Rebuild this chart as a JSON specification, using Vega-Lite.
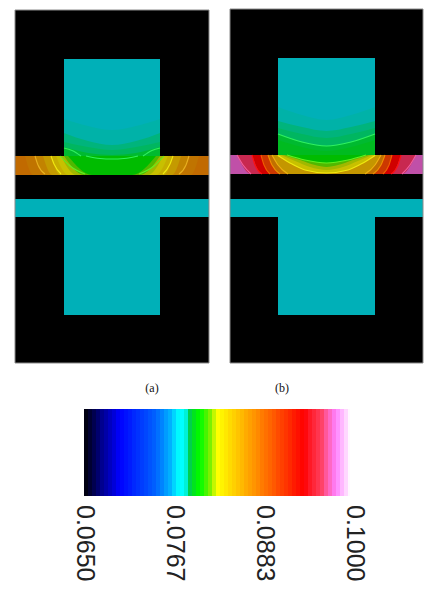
{
"$schema":"https://vega.github.io/schema/vega-lite/v6.json",
"width":440,"height":593,"padding":0,
"autosize":{"type":"fit","contains":"padding"},
"background":"#ffffff",
"view":{"stroke":null},
"config":{"style":{"cell":{"stroke":null}}},
"datasets":{
"blocks":[
{"x":15,"x2":209,"y":10,"y2":363,"v":0.065},
{"x":64,"x2":160,"y":59,"y2":156,"v":0.0774},
{"x":15,"x2":209,"y":156,"y2":175,"v":0.0872},
{"x":15,"x2":209,"y":175,"y2":199,"v":0.065},
{"x":15,"x2":209,"y":199,"y2":217,"v":0.0774},
{"x":64,"x2":160,"y":217,"y2":315,"v":0.0774},
{"x":230,"x2":423,"y":9,"y2":363,"v":0.065},
{"x":278,"x2":375,"y":58,"y2":155,"v":0.0774},
{"x":230,"x2":423,"y":155,"y2":174,"v":0.098},
{"x":230,"x2":423,"y":174,"y2":199,"v":0.065},
{"x":230,"x2":423,"y":199,"y2":217,"v":0.0774},
{"x":278,"x2":375,"y":217,"y2":315,"v":0.0774}
],
"frames":[
{"x":15,"x2":209,"y":10,"y2":363},
{"x":230,"x2":423,"y":9,"y2":363}
],
"bands":[
{"b":"a1","v":0.0779,"x":64,"y":119,"y2":156},{"b":"a1","v":0.0779,"x":88,"y":126,"y2":156},{"b":"a1","v":0.0779,"x":112,"y":130,"y2":156},{"b":"a1","v":0.0779,"x":136,"y":126,"y2":156},{"b":"a1","v":0.0779,"x":160,"y":119,"y2":156},
{"b":"a2","v":0.0785,"x":64,"y":133,"y2":156},{"b":"a2","v":0.0785,"x":88,"y":141,"y2":156},{"b":"a2","v":0.0785,"x":112,"y":145,"y2":156},{"b":"a2","v":0.0785,"x":136,"y":141,"y2":156},{"b":"a2","v":0.0785,"x":160,"y":133,"y2":156},
{"b":"a3","v":0.0790,"x":64,"y":142,"y2":156},{"b":"a3","v":0.0790,"x":88,"y":147,"y2":156},{"b":"a3","v":0.0790,"x":112,"y":150,"y2":156},{"b":"a3","v":0.0790,"x":136,"y":147,"y2":156},{"b":"a3","v":0.0790,"x":160,"y":142,"y2":156},
{"b":"a4","v":0.0794,"x":64,"y":147,"y2":156},{"b":"a4","v":0.0794,"x":88,"y":153,"y2":156},{"b":"a4","v":0.0794,"x":112,"y":155,"y2":156},{"b":"a4","v":0.0794,"x":136,"y":153,"y2":156},{"b":"a4","v":0.0794,"x":160,"y":147,"y2":156},
{"b":"as1","v":0.0866,"x":25,"y":156,"y2":156},{"b":"as1","v":0.0866,"x":33,"y":156,"y2":175},{"b":"as1","v":0.0866,"x":191,"y":156,"y2":175},{"b":"as1","v":0.0866,"x":199,"y":156,"y2":156},
{"b":"as2","v":0.0858,"x":35,"y":156,"y2":156},{"b":"as2","v":0.0858,"x":45,"y":156,"y2":175},{"b":"as2","v":0.0858,"x":179,"y":156,"y2":175},{"b":"as2","v":0.0858,"x":189,"y":156,"y2":156},
{"b":"as3","v":0.0846,"x":43,"y":156,"y2":156},{"b":"as3","v":0.0846,"x":52,"y":156,"y2":175},{"b":"as3","v":0.0846,"x":172,"y":156,"y2":175},{"b":"as3","v":0.0846,"x":181,"y":156,"y2":156},
{"b":"as4","v":0.0835,"x":51,"y":156,"y2":156},{"b":"as4","v":0.0835,"x":60,"y":156,"y2":175},{"b":"as4","v":0.0835,"x":164,"y":156,"y2":175},{"b":"as4","v":0.0835,"x":173,"y":156,"y2":156},
{"b":"as5","v":0.0826,"x":56,"y":156,"y2":156},{"b":"as5","v":0.0826,"x":68,"y":156,"y2":175},{"b":"as5","v":0.0826,"x":156,"y":156,"y2":175},{"b":"as5","v":0.0826,"x":168,"y":156,"y2":156},
{"b":"as6","v":0.0820,"x":61,"y":156,"y2":156},{"b":"as6","v":0.0820,"x":76,"y":156,"y2":175},{"b":"as6","v":0.0820,"x":148,"y":156,"y2":175},{"b":"as6","v":0.0820,"x":163,"y":156,"y2":156},
{"b":"as7","v":0.0814,"x":64,"y":156,"y2":156},{"b":"as7","v":0.0814,"x":84,"y":156,"y2":175},{"b":"as7","v":0.0814,"x":140,"y":156,"y2":175},{"b":"as7","v":0.0814,"x":160,"y":156,"y2":156},
{"b":"as8","v":0.0800,"x":68,"y":156,"y2":156},{"b":"as8","v":0.0800,"x":92,"y":156,"y2":175},{"b":"as8","v":0.0800,"x":132,"y":156,"y2":175},{"b":"as8","v":0.0800,"x":156,"y":156,"y2":156},
{"b":"b1","v":0.0779,"x":278,"y":107,"y2":155},{"b":"b1","v":0.0779,"x":302,"y":115,"y2":155},{"b":"b1","v":0.0779,"x":326.5,"y":120,"y2":155},{"b":"b1","v":0.0779,"x":351,"y":115,"y2":155},{"b":"b1","v":0.0779,"x":375,"y":107,"y2":155},
{"b":"b2","v":0.0785,"x":278,"y":121,"y2":155},{"b":"b2","v":0.0785,"x":302,"y":127,"y2":155},{"b":"b2","v":0.0785,"x":326.5,"y":131,"y2":155},{"b":"b2","v":0.0785,"x":351,"y":127,"y2":155},{"b":"b2","v":0.0785,"x":375,"y":121,"y2":155},
{"b":"b3","v":0.0790,"x":278,"y":128,"y2":155},{"b":"b3","v":0.0790,"x":302,"y":134,"y2":155},{"b":"b3","v":0.0790,"x":326.5,"y":138,"y2":155},{"b":"b3","v":0.0790,"x":351,"y":134,"y2":155},{"b":"b3","v":0.0790,"x":375,"y":128,"y2":155},
{"b":"b4","v":0.0794,"x":278,"y":134,"y2":155},{"b":"b4","v":0.0794,"x":302,"y":142,"y2":155},{"b":"b4","v":0.0794,"x":326.5,"y":146,"y2":155},{"b":"b4","v":0.0794,"x":351,"y":142,"y2":155},{"b":"b4","v":0.0794,"x":375,"y":134,"y2":155},
{"b":"b5","v":0.0796,"x":278,"y":140,"y2":155},{"b":"b5","v":0.0796,"x":302,"y":147,"y2":155},{"b":"b5","v":0.0796,"x":326.5,"y":151,"y2":155},{"b":"b5","v":0.0796,"x":351,"y":147,"y2":155},{"b":"b5","v":0.0796,"x":375,"y":140,"y2":155},
{"b":"bs1","v":0.0961,"x":237,"y":155,"y2":155},{"b":"bs1","v":0.0961,"x":251,"y":155,"y2":174},{"b":"bs1","v":0.0961,"x":402,"y":155,"y2":174},{"b":"bs1","v":0.0961,"x":416,"y":155,"y2":155},
{"b":"bs2","v":0.0938,"x":252,"y":155,"y2":155},{"b":"bs2","v":0.0938,"x":262,"y":155,"y2":174},{"b":"bs2","v":0.0938,"x":391,"y":155,"y2":174},{"b":"bs2","v":0.0938,"x":401,"y":155,"y2":155},
{"b":"bs3","v":0.0905,"x":261,"y":155,"y2":155},{"b":"bs3","v":0.0905,"x":270,"y":155,"y2":174},{"b":"bs3","v":0.0905,"x":383,"y":155,"y2":174},{"b":"bs3","v":0.0905,"x":392,"y":155,"y2":155},
{"b":"bs4","v":0.0868,"x":268,"y":155,"y2":155},{"b":"bs4","v":0.0868,"x":280,"y":155,"y2":174},{"b":"bs4","v":0.0868,"x":373,"y":155,"y2":174},{"b":"bs4","v":0.0868,"x":385,"y":155,"y2":155},
{"b":"bs5","v":0.0848,"x":272,"y":155,"y2":155},{"b":"bs5","v":0.0848,"x":288,"y":155,"y2":174},{"b":"bs5","v":0.0848,"x":365,"y":155,"y2":174},{"b":"bs5","v":0.0848,"x":381,"y":155,"y2":155},
{"b":"bs6","v":0.0826,"x":276,"y":155,"y2":155},{"b":"bs6","v":0.0826,"x":290,"y":155,"y2":163},{"b":"bs6","v":0.0826,"x":305,"y":155,"y2":170},{"b":"bs6","v":0.0826,"x":326.5,"y":155,"y2":173},{"b":"bs6","v":0.0826,"x":348,"y":155,"y2":170},{"b":"bs6","v":0.0826,"x":363,"y":155,"y2":163},{"b":"bs6","v":0.0826,"x":377,"y":155,"y2":155},
{"b":"bs7","v":0.0820,"x":281,"y":155,"y2":155},{"b":"bs7","v":0.0820,"x":295,"y":155,"y2":161},{"b":"bs7","v":0.0820,"x":310,"y":155,"y2":167},{"b":"bs7","v":0.0820,"x":326.5,"y":155,"y2":170},{"b":"bs7","v":0.0820,"x":343,"y":155,"y2":167},{"b":"bs7","v":0.0820,"x":358,"y":155,"y2":161},{"b":"bs7","v":0.0820,"x":372,"y":155,"y2":155},
{"b":"bs8","v":0.0814,"x":284,"y":155,"y2":155},{"b":"bs8","v":0.0814,"x":300,"y":155,"y2":160},{"b":"bs8","v":0.0814,"x":315,"y":155,"y2":165},{"b":"bs8","v":0.0814,"x":326.5,"y":155,"y2":167},{"b":"bs8","v":0.0814,"x":338,"y":155,"y2":165},{"b":"bs8","v":0.0814,"x":353,"y":155,"y2":160},{"b":"bs8","v":0.0814,"x":369,"y":155,"y2":155},
{"b":"bs9","v":0.0800,"x":287,"y":155,"y2":155},{"b":"bs9","v":0.0800,"x":305,"y":155,"y2":160},{"b":"bs9","v":0.0800,"x":326.5,"y":155,"y2":163},{"b":"bs9","v":0.0800,"x":348,"y":155,"y2":160},{"b":"bs9","v":0.0800,"x":366,"y":155,"y2":155}
],
"contours":[
{"c":"a1l","v":0.0797,"x":64,"y":148},{"c":"a1l","v":0.0797,"x":72,"y":150.5},{"c":"a1l","v":0.0797,"x":81,"y":156},
{"c":"a1r","v":0.0797,"x":143,"y":156},{"c":"a1r","v":0.0797,"x":152,"y":150.5},{"c":"a1r","v":0.0797,"x":160,"y":148},
{"c":"a2","v":0.0797,"x":86,"y":156},{"c":"a2","v":0.0797,"x":100,"y":158.5},{"c":"a2","v":0.0797,"x":112,"y":159},{"c":"a2","v":0.0797,"x":124,"y":158.5},{"c":"a2","v":0.0797,"x":138,"y":156},
{"c":"a3l","v":0.0806,"x":60,"y":156},{"c":"a3l","v":0.0806,"x":70,"y":166},{"c":"a3l","v":0.0806,"x":85,"y":174},
{"c":"a3r","v":0.0806,"x":139,"y":174},{"c":"a3r","v":0.0806,"x":154,"y":166},{"c":"a3r","v":0.0806,"x":164,"y":156},
{"c":"a4l","v":0.0826,"x":51,"y":156},{"c":"a4l","v":0.0826,"x":54,"y":164},{"c":"a4l","v":0.0826,"x":61,"y":174},
{"c":"a4r","v":0.0826,"x":163,"y":174},{"c":"a4r","v":0.0826,"x":170,"y":164},{"c":"a4r","v":0.0826,"x":173,"y":156},
{"c":"a5l","v":0.0842,"x":35,"y":156},{"c":"a5l","v":0.0842,"x":38,"y":165},{"c":"a5l","v":0.0842,"x":45,"y":174},
{"c":"a5r","v":0.0842,"x":179,"y":174},{"c":"a5r","v":0.0842,"x":186,"y":165},{"c":"a5r","v":0.0842,"x":189,"y":156},
{"c":"b1","v":0.0797,"x":278,"y":134},{"c":"b1","v":0.0797,"x":302,"y":142},{"c":"b1","v":0.0797,"x":326.5,"y":146},{"c":"b1","v":0.0797,"x":351,"y":142},{"c":"b1","v":0.0797,"x":375,"y":134},
{"c":"b2","v":0.0806,"x":287,"y":155},{"c":"b2","v":0.0806,"x":305,"y":160},{"c":"b2","v":0.0806,"x":326.5,"y":163},{"c":"b2","v":0.0806,"x":348,"y":160},{"c":"b2","v":0.0806,"x":366,"y":155},
{"c":"b3","v":0.0826,"x":278,"y":155.5},{"c":"b3","v":0.0826,"x":290,"y":163},{"c":"b3","v":0.0826,"x":305,"y":170},{"c":"b3","v":0.0826,"x":326.5,"y":173},{"c":"b3","v":0.0826,"x":348,"y":170},{"c":"b3","v":0.0826,"x":363,"y":163},{"c":"b3","v":0.0826,"x":375,"y":155.5},
{"c":"b4l","v":0.0848,"x":272,"y":155},{"c":"b4l","v":0.0848,"x":278,"y":165},{"c":"b4l","v":0.0848,"x":288,"y":174},
{"c":"b4r","v":0.0848,"x":365,"y":174},{"c":"b4r","v":0.0848,"x":375,"y":165},{"c":"b4r","v":0.0848,"x":381,"y":155},
{"c":"b5l","v":0.0868,"x":268,"y":155},{"c":"b5l","v":0.0868,"x":272,"y":165},{"c":"b5l","v":0.0868,"x":280,"y":174},
{"c":"b5r","v":0.0868,"x":373,"y":174},{"c":"b5r","v":0.0868,"x":381,"y":165},{"c":"b5r","v":0.0868,"x":385,"y":155},
{"c":"b6l","v":0.0905,"x":261,"y":155},{"c":"b6l","v":0.0905,"x":264,"y":165},{"c":"b6l","v":0.0905,"x":270,"y":174},
{"c":"b6r","v":0.0905,"x":383,"y":174},{"c":"b6r","v":0.0905,"x":389,"y":165},{"c":"b6r","v":0.0905,"x":392,"y":155},
{"c":"b7l","v":0.0938,"x":252,"y":155},{"c":"b7l","v":0.0938,"x":255,"y":165},{"c":"b7l","v":0.0938,"x":262,"y":174},
{"c":"b7r","v":0.0938,"x":391,"y":174},{"c":"b7r","v":0.0938,"x":398,"y":165},{"c":"b7r","v":0.0938,"x":401,"y":155},
{"c":"b8l","v":0.0968,"x":237,"y":155},{"c":"b8l","v":0.0968,"x":243,"y":165},{"c":"b8l","v":0.0968,"x":251,"y":174},
{"c":"b8r","v":0.0968,"x":402,"y":174},{"c":"b8r","v":0.0968,"x":410,"y":165},{"c":"b8r","v":0.0968,"x":416,"y":155}
],
"ramp":[
{"x":84,"x2":88,"y":409,"y2":496,"v":0.0653},{"x":88,"x2":92,"y":409,"y2":496,"v":0.0658},{"x":92,"x2":96,"y":409,"y2":496,"v":0.0663},{"x":96,"x2":100,"y":409,"y2":496,"v":0.0668},{"x":100,"x2":104,"y":409,"y2":496,"v":0.0674},{"x":104,"x2":108,"y":409,"y2":496,"v":0.0679},{"x":108,"x2":112,"y":409,"y2":496,"v":0.0684},{"x":112,"x2":116,"y":409,"y2":496,"v":0.0689},{"x":116,"x2":120,"y":409,"y2":496,"v":0.0695},{"x":120,"x2":124,"y":409,"y2":496,"v":0.0700},{"x":124,"x2":128,"y":409,"y2":496,"v":0.0705},{"x":128,"x2":132,"y":409,"y2":496,"v":0.0710},{"x":132,"x2":136,"y":409,"y2":496,"v":0.0716},{"x":136,"x2":140,"y":409,"y2":496,"v":0.0721},{"x":140,"x2":144,"y":409,"y2":496,"v":0.0726},{"x":144,"x2":148,"y":409,"y2":496,"v":0.0731},{"x":148,"x2":152,"y":409,"y2":496,"v":0.0737},{"x":152,"x2":156,"y":409,"y2":496,"v":0.0742},{"x":156,"x2":160,"y":409,"y2":496,"v":0.0747},{"x":160,"x2":164,"y":409,"y2":496,"v":0.0752},{"x":164,"x2":168,"y":409,"y2":496,"v":0.0758},{"x":168,"x2":172,"y":409,"y2":496,"v":0.0763},{"x":172,"x2":176,"y":409,"y2":496,"v":0.0768},{"x":176,"x2":180,"y":409,"y2":496,"v":0.0773},{"x":180,"x2":184,"y":409,"y2":496,"v":0.0779},{"x":184,"x2":188,"y":409,"y2":496,"v":0.0784},{"x":188,"x2":192,"y":409,"y2":496,"v":0.0789},{"x":192,"x2":196,"y":409,"y2":496,"v":0.0794},{"x":196,"x2":200,"y":409,"y2":496,"v":0.0800},{"x":200,"x2":204,"y":409,"y2":496,"v":0.0805},{"x":204,"x2":208,"y":409,"y2":496,"v":0.0810},{"x":208,"x2":212,"y":409,"y2":496,"v":0.0815},{"x":212,"x2":216,"y":409,"y2":496,"v":0.0821},{"x":216,"x2":220,"y":409,"y2":496,"v":0.0826},{"x":220,"x2":224,"y":409,"y2":496,"v":0.0831},{"x":224,"x2":228,"y":409,"y2":496,"v":0.0836},{"x":228,"x2":232,"y":409,"y2":496,"v":0.0842},{"x":232,"x2":236,"y":409,"y2":496,"v":0.0847},{"x":236,"x2":240,"y":409,"y2":496,"v":0.0852},{"x":240,"x2":244,"y":409,"y2":496,"v":0.0857},{"x":244,"x2":248,"y":409,"y2":496,"v":0.0863},{"x":248,"x2":252,"y":409,"y2":496,"v":0.0868},{"x":252,"x2":256,"y":409,"y2":496,"v":0.0873},{"x":256,"x2":260,"y":409,"y2":496,"v":0.0878},{"x":260,"x2":264,"y":409,"y2":496,"v":0.0884},{"x":264,"x2":268,"y":409,"y2":496,"v":0.0889},{"x":268,"x2":272,"y":409,"y2":496,"v":0.0894},{"x":272,"x2":276,"y":409,"y2":496,"v":0.0899},{"x":276,"x2":280,"y":409,"y2":496,"v":0.0905},{"x":280,"x2":284,"y":409,"y2":496,"v":0.0910},{"x":284,"x2":288,"y":409,"y2":496,"v":0.0915},{"x":288,"x2":292,"y":409,"y2":496,"v":0.0920},{"x":292,"x2":296,"y":409,"y2":496,"v":0.0926},{"x":296,"x2":300,"y":409,"y2":496,"v":0.0931},{"x":300,"x2":304,"y":409,"y2":496,"v":0.0936},{"x":304,"x2":308,"y":409,"y2":496,"v":0.0941},{"x":308,"x2":312,"y":409,"y2":496,"v":0.0947},{"x":312,"x2":316,"y":409,"y2":496,"v":0.0952},{"x":316,"x2":320,"y":409,"y2":496,"v":0.0957},{"x":320,"x2":324,"y":409,"y2":496,"v":0.0962},{"x":324,"x2":328,"y":409,"y2":496,"v":0.0968},{"x":328,"x2":332,"y":409,"y2":496,"v":0.0973},{"x":332,"x2":336,"y":409,"y2":496,"v":0.0978},{"x":336,"x2":340,"y":409,"y2":496,"v":0.0983},{"x":340,"x2":344,"y":409,"y2":496,"v":0.0989},{"x":344,"x2":348,"y":409,"y2":496,"v":0.0994},{"x":348,"x2":350,"y":409,"y2":496,"v":0.0999}
],
"captions":[{"x":152,"y":388,"t":"(a)"},{"x":282,"y":388,"t":"(b)"}],
"ticks":[{"x":85,"y":505,"t":"0.0650"},{"x":175,"y":505,"t":"0.0767"},{"x":265,"y":505,"t":"0.0883"},{"x":355,"y":505,"t":"0.1000"}]
},
"encoding":{
"x":{"field":"x","type":"quantitative","axis":null,"scale":{"domain":[0,440],"range":[0,440],"nice":false,"zero":false}},
"y":{"field":"y","type":"quantitative","axis":null,"scale":{"domain":[0,593],"range":[0,593],"nice":false,"zero":false}}
},
"layer":[
{"data":{"name":"blocks"},"mark":{"type":"rect","strokeWidth":0},
"encoding":{"x2":{"field":"x2"},"y2":{"field":"y2"},
"color":{"field":"v","type":"quantitative","legend":null,"scale":{"type":"linear","clamp":true,"interpolate":"rgb","domain":[0.065,0.0774,0.0779,0.0785,0.0790,0.0794,0.0800,0.0809,0.0814,0.0820,0.0826,0.0868,0.0905,0.0938,0.0961,0.098],"range":["#000000","#00b0b8","#00b2a8","#00b47c","#00b660","#00ba30","#00bc00","#20bc00","#50b800","#a0b800","#c8c000","#c07000","#cc3800","#d00000","#c82850","#c050a8"]}}}},
{"data":{"name":"bands"},"mark":{"type":"area","interpolate":"monotone","strokeWidth":0},
"encoding":{"y2":{"field":"y2"},"detail":{"field":"b"},
"color":{"field":"v","type":"quantitative","legend":null,"scale":{"type":"linear","clamp":true,"interpolate":"rgb","domain":[0.065,0.0774,0.0779,0.0785,0.0790,0.0794,0.0800,0.0809,0.0814,0.0820,0.0826,0.0868,0.0905,0.0938,0.0961,0.098],"range":["#000000","#00b0b8","#00b2a8","#00b47c","#00b660","#00ba30","#00bc00","#20bc00","#50b800","#a0b800","#c8c000","#c07000","#cc3800","#d00000","#c82850","#c050a8"]}}}},
{"data":{"name":"contours"},"mark":{"type":"line","interpolate":"monotone","strokeWidth":1.1},
"encoding":{"detail":{"field":"c"},
"color":{"field":"v","type":"quantitative","legend":null,"scale":{"type":"linear","clamp":true,"interpolate":"rgb","domain":[0.0797,0.0806,0.0826,0.0842,0.0848,0.0868,0.0905,0.0938,0.0968],"range":["#30f060","#60f020","#f0e810","#e8b020","#f0b010","#f09000","#f06000","#ff1010","#f060a0"]}}}},
{"data":{"name":"frames"},"mark":{"type":"rect","fillOpacity":0,"stroke":"#8a8a8a","strokeWidth":1},
"encoding":{"x2":{"field":"x2"},"y2":{"field":"y2"}}},
{"data":{"name":"ramp"},"mark":{"type":"rect","strokeWidth":0},
"encoding":{"x2":{"field":"x2"},"y2":{"field":"y2"},
"color":{"field":"v","type":"quantitative","legend":null,"scale":{"type":"linear","clamp":true,"interpolate":"rgb","domain":[0.065,0.0671,0.0697,0.0743,0.0763,0.0774,0.0783,0.0787,0.0797,0.0803,0.0814,0.0822,0.0826,0.0868,0.0938,0.0961,0.098,0.0993,0.1],"range":["#000000","#000080","#0000ff","#0060ff","#00b0ff","#00ffff","#00ffff","#00c860","#00f000","#00ff00","#70f000","#d0f800","#ffff00","#ffa000","#ff0000","#ff4060","#ff80ff","#ffd0ff","#ffffff"]}}}},
{"data":{"name":"captions"},"mark":{"type":"text","font":"Liberation Serif","fontSize":12,"color":"#111111","align":"center","baseline":"middle"},
"encoding":{"text":{"field":"t"}}},
{"data":{"name":"ticks"},"mark":{"type":"text","font":"Liberation Sans","fontSize":25,"color":"#222222","angle":90,"align":"left","baseline":"middle"},
"encoding":{"text":{"field":"t"}}}
],
"resolve":{"scale":{"color":"independent"}}
}
